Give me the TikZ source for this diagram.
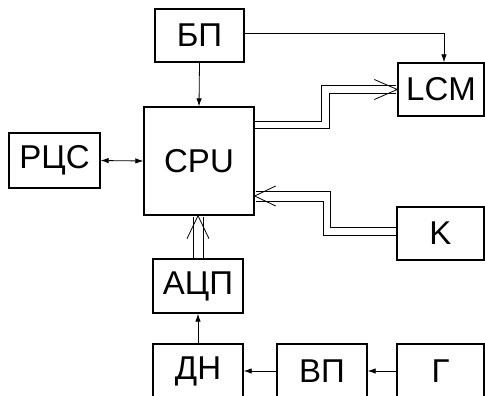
\documentclass[tikz,border=0pt]{standalone}
\usepackage{fontspec}
\setmainfont{Liberation Sans}
\usetikzlibrary{calc,arrows.meta}
\tikzset{
  blk/.style={draw, line width=1.4pt, inner sep=0pt, font=\fontsize{33}{34}\selectfont},
  conn/.style={line width=0.8pt},
  arr/.style={conn, -{Latex[length=8pt,width=5.5pt]}},
  darr/.style={conn, {Latex[length=8pt,width=5.5pt]}-{Latex[length=8pt,width=5.5pt]}},
}
\begin{document}
\begin{tikzpicture}[x=1pt,y=-1pt]
\useasboundingbox (0,0) rectangle (485,396);
\clip (0,0) rectangle (485,396);
\fill[white] (0,0) rectangle (485,396);
\node[blk, minimum width=89pt, minimum height=53pt] (bp) at (199.5,35.5) {БП};
\node[blk, minimum width=86pt, minimum height=53pt] (lcm) at (441,89.5) {LCM};
\node[blk, minimum width=110pt, minimum height=108pt] (cpu) at (199,161) {CPU};
\node[blk, minimum width=91pt, minimum height=55pt] (rcs) at (54.5,160.5) {РЦС};
\node[blk, minimum width=87pt, minimum height=53pt] (k) at (440.5,233.5) {K};
\node[blk, minimum width=90pt, minimum height=54pt] (adc) at (198,286) {АЦП};
\node[blk, minimum width=90pt, minimum height=54pt] (dn) at (198,371) {ДН};
\node[blk, minimum width=90pt, minimum height=54pt] (vp) at (322,371) {ВП};
\node[blk, minimum width=87pt, minimum height=54pt] (g) at (440.5,371) {Г};

% single arrows
\draw[arr] ($(bp.east)+(0,-2.5)$) -| ($(lcm.north)+(3,0)$);
\draw[arr] (bp.south) -- (cpu.north);
\draw[darr] (rcs.east) -- (cpu.west);
\draw[arr] (dn.north) -- (adc.south);
\draw[arr] (g.west) -- (vp.east);
\draw[arr] (vp.west) -- (dn.east);

% double arrow CPU -> LCM
\coordinate (ltip) at (lcm.west);
\draw[conn] ($(cpu.north east)+(0,15)$) -| ($(ltip)+(-76,-4)$) -- ($(ltip)+(-1,-4)$);
\draw[conn] ($(cpu.north east)+(0,22)$) -| ($(ltip)+(-68,4)$) -- ($(ltip)+(-1,4)$);
\draw[conn] ($(ltip)+(-23,-10)$) -- (ltip) -- ($(ltip)+(-23,10)$);

% double arrow K -> CPU
\coordinate (ktip) at ($(cpu.east)+(0,35)$);
\draw[conn] ($(k.west)+(0,-6.5)$) -| ($(ktip)+(76,-4.5)$) -- ($(ktip)+(1,-4.5)$);
\draw[conn] ($(k.west)+(0,1.5)$) -| ($(ktip)+(69,5)$) -- ($(ktip)+(1,5)$);
\draw[conn] ($(ktip)+(21,-10)$) -- (ktip) -- ($(ktip)+(21,10)$);

% double arrow ADC -> CPU
\coordinate (atip) at (adc.north |- cpu.south);
\draw[conn] ($(adc.north)+(-5,0)$) -- ($(atip)+(-5,1)$);
\draw[conn] ($(adc.north)+(5,0)$) -- ($(atip)+(5,1)$);
\draw[conn] ($(atip)+(-11,23)$) -- (atip) -- ($(atip)+(11,23)$);
\end{tikzpicture}
\end{document}
